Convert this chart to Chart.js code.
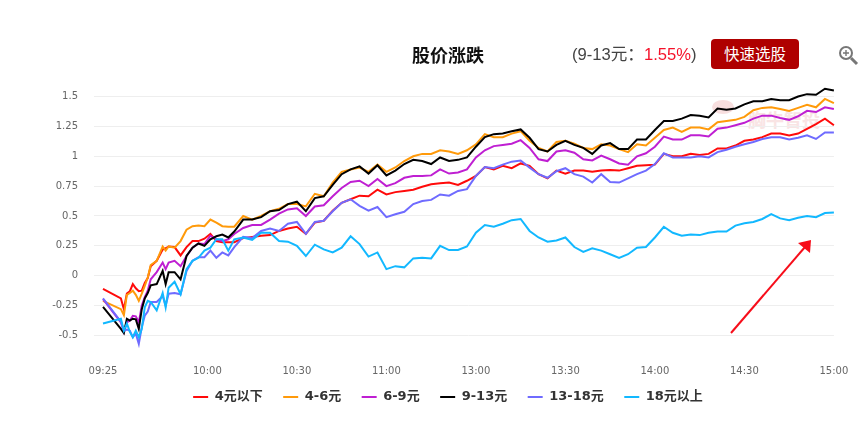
<!DOCTYPE html>
<html lang="zh-CN"><head><meta charset="utf-8">
<style>
html,body{margin:0;padding:0;background:#fff;width:866px;height:423px;overflow:hidden}
#wrap{position:relative;width:866px;height:423px}
canvas{position:absolute;left:0;top:0}
.t{position:absolute;white-space:nowrap;font-family:"Liberation Sans","Noto Sans CJK SC",sans-serif}
svg{position:absolute;left:0;top:0}
</style>
<script src="https://cdn.jsdelivr.net/npm/chart.js@4/dist/chart.umd.min.js"></script>
</head><body>
<div id="wrap">
<svg width="866" height="423" style="z-index:0">
<ellipse cx="723" cy="107" rx="11" ry="7" fill="#f8dfdf"/>
<text x="748" y="127" font-family="Noto Sans CJK SC" font-weight="700" font-size="18" fill="#f9e4e4">胸牛智投</text>
</svg>
<canvas id="c" width="866" height="423" style="z-index:1"></canvas>
<div class="t" style="z-index:2;left:572px;top:45px;font-size:16.6px;line-height:20px;color:#444">(9-13元：<span style="color:#f5122a">1.55%</span>)</div>
<div class="t" style="z-index:2;left:711px;top:39px;width:88px;height:30px;line-height:29px;background:#af0000;border-radius:4px;color:#fff;font-size:15.5px;text-align:center;font-family:'Noto Sans CJK SC',sans-serif">快速选股</div>
<svg width="866" height="423" style="z-index:3">
<g fill="none" stroke="#777">
<circle cx="846" cy="53" r="6" stroke-width="2"/>
<path d="M843 53h6M846 50v6" stroke-width="1.4"/>
<path d="M851 58l6 6" stroke-width="3"/>
</g>
<path d="M731 333L805 247" stroke="#f70d1a" stroke-width="2" fill="none"/>
<path d="M811 240L798 243L810 253Z" fill="#f70d1a"/>
</svg>
</div>
<script>
const seriesNames = ["4元以下","4-6元","6-9元","9-13元","13-18元","18元以上"];
const seriesColors = ["#ff0a0a","#ff9a0a","#bf1fd2","#000000","#6f6bff","#12b8ff"];
const tickMinutes = [0,35,65,95,125,155,185,215,245];
const tickLabels = ["09:25","10:00","10:30","11:00","13:00","13:30","14:00","14:30","15:00"];
const yTicks = [-0.5,-0.25,0,0.25,0.5,0.75,1,1.25,1.5];
const yTickLabels = ["-0.5","-0.25","0","0.25","0.5","0.75","1","1.25","1.5"];
const minutes = [0,6,7,8,9,10,11,12,13,14,15,16,18,20,21,22,24,26,28,30,32,34,36,38,40,42,44,
47,50,53,56,59,62,65,68,71,74,77,80,83,86,89,92,95,98,101,104,107,110,113,116,119,122,125,128,131,134,137,140,143,146,149,152,155,158,161,164,167,170,173,176,179,182,185,188,191,194,197,200,203,206,209,212,215,218,221,224,227,230,233,236,239,242,245];
const under4 = [-.11,-.19,-.28,-.15,-.13,-.07,-.105,-.13,-.125,-.06,-.02,.08,.125,.22,.23,.245,.24,.17,.24,.29,.29,.31,.35,.29,.28,.28,.28,
.315,.325,.335,.34,.375,.395,.41,.35,.445,.46,.545,.61,.64,
.67,.665,.72,.68,.70,.71,.72,.745,.765,.775,.78,.76,.795,.835,
.91,.89,.92,.90,.94,.92,.85,.815,.88,.855,.88,.88,.87,
.88,.885,.88,.90,.92,.925,.93,1.02,1.0,1.0,1.02,1.01,1.02,
1.065,1.065,1.09,1.13,1.14,1.16,1.19,1.19,1.175,1.19,1.23,1.27,1.315,1.26];
const from4to6 = [-.21,-.28,-.33,-.16,-.145,-.125,-.16,-.21,-.15,-.085,-.015,.09,.125,.245,.21,.245,.235,.29,.385,.415,.42,.415,.47,.445,.415,.41,.41,
.50,.47,.50,.54,.56,.60,.60,.58,.686,.665,.78,.87,.89,
.906,.87,.93,.87,.906,.96,1.0,1.02,1.02,1.05,1.04,1.02,1.05,1.10,
1.185,1.16,1.16,1.19,1.21,1.13,1.07,1.04,1.12,1.13,1.105,1.07,1.06,
1.10,1.09,1.06,1.035,1.10,1.09,1.155,1.22,1.24,1.205,1.24,1.24,1.225,
1.285,1.295,1.305,1.33,1.385,1.405,1.41,1.395,1.38,1.405,1.43,1.41,1.48,1.445];
const from6to9 = [-.195,-.39,-.47,-.39,-.375,-.335,-.34,-.39,-.25,-.18,-.125,-.03,.03,.11,.055,.11,.125,.08,.165,.235,.27,.265,.335,.305,.29,.305,.35,
.40,.425,.425,.47,.52,.555,.565,.50,.58,.59,.665,.735,.785,
.795,.75,.81,.75,.775,.82,.835,.835,.84,.89,.855,.865,.89,.99,
1.05,1.085,1.095,1.105,1.135,1.07,.975,.96,1.04,1.05,1.03,.975,.965,
1.005,.975,.94,.93,1.0,1.025,1.08,1.165,1.14,1.14,1.175,1.175,1.165,
1.23,1.24,1.26,1.28,1.315,1.34,1.34,1.32,1.305,1.335,1.38,1.37,1.41,1.395];
const from9to13 = [-.26,-.445,-.48,-.36,-.375,-.36,-.365,-.445,-.28,-.19,-.145,-.08,-.07,.04,-.07,.03,.03,-.03,.165,.235,.27,.25,.305,.33,.345,.32,.37,
.47,.47,.49,.54,.55,.60,.62,.54,.65,.665,.76,.85,.89,
.915,.855,.925,.84,.88,.935,.97,.96,.935,.99,.96,.97,.99,1.08,
1.16,1.185,1.19,1.21,1.225,1.155,1.06,1.04,1.095,1.13,1.095,1.07,1.02,
1.09,1.11,1.06,1.06,1.14,1.14,1.22,1.295,1.295,1.315,1.345,1.34,1.325,
1.40,1.39,1.40,1.435,1.46,1.46,1.48,1.47,1.47,1.50,1.52,1.515,1.565,1.55];
const from13to18 = [-.19,-.385,-.46,-.45,-.46,-.515,-.485,-.57,-.43,-.335,-.30,-.22,-.22,-.17,-.25,-.15,-.145,-.155,.04,.125,.155,.155,.21,.15,.195,.17,.24,
.325,.315,.375,.395,.375,.435,.45,.35,.45,.46,.54,.61,.64,
.585,.545,.575,.49,.515,.535,.60,.625,.635,.68,.67,.71,.725,.835,
.91,.90,.93,.955,.965,.905,.85,.82,.875,.90,.85,.83,.78,
.85,.785,.78,.815,.85,.88,.935,1.025,.99,.99,.99,1.0,.99,
1.035,1.055,1.08,1.10,1.12,1.145,1.16,1.16,1.14,1.155,1.175,1.145,1.20,1.20];
const over18 = [-.40,-.36,-.46,-.40,-.47,-.515,-.46,-.515,-.445,-.265,-.21,-.22,-.29,-.145,-.265,-.10,-.05,-.155,.055,.125,.15,.21,.235,.305,.305,.21,.305,
.32,.30,.36,.36,.29,.285,.25,.165,.26,.22,.195,.235,.33,
.265,.16,.195,.055,.08,.07,.145,.15,.145,.25,.215,.215,.245,.36,
.425,.41,.435,.465,.475,.375,.32,.285,.295,.32,.24,.20,.23,
.21,.18,.15,.18,.235,.24,.32,.41,.36,.335,.345,.34,.36,
.37,.37,.42,.44,.45,.475,.515,.48,.465,.485,.50,.49,.525,.53];
const allSeries = [under4,from4to6,from6to9,from9to13,from13to18,over18];

const tickFont = {family:'"DejaVu Sans","Noto Sans CJK SC",sans-serif',size:10};
new Chart(document.getElementById('c'),{
  type:'line',
  data:{datasets:allSeries.map((vals,i)=>({
    label:seriesNames[i],
    data:vals.map((v,j)=>({x:minutes[j],y:v})),
    borderColor:seriesColors[i],backgroundColor:seriesColors[i],
    borderWidth:2,pointRadius:0,tension:0,clip:false,order:-i
  }))},
  options:{
    responsive:false,animation:false,
    layout:{padding:{left:58,right:28,top:0,bottom:9.6}},
    plugins:{
      tooltip:{enabled:false},
      title:{display:true,text:'股价涨跌',color:'#111',
        font:{family:'"Noto Sans CJK SC",sans-serif',size:18,weight:'bold',lineHeight:1.2},
        padding:{top:44.2,bottom:18.8}},
      legend:{position:'bottom',
        labels:{boxWidth:15,boxHeight:2,padding:20.5,color:'#333',
          font:{family:'"DejaVu Sans","Noto Sans CJK SC",sans-serif',size:13,weight:'bold'},
          generateLabels:(chart)=>chart.data.datasets.map((d,i)=>({
            text:d.label,fillStyle:d.borderColor,strokeStyle:d.borderColor,lineWidth:0,
            fontColor:'#333',datasetIndex:i,hidden:false}))}}
    },
    scales:{
      x:{type:'linear',min:0,max:245,
        grid:{display:false,drawTicks:false},border:{display:false},
        afterBuildTicks:(s)=>{s.ticks=tickMinutes.map(v=>({value:v}));},
        afterFit:(s)=>{s.height=22.5;s._computeLabelArea=()=>undefined;},
        ticks:{autoSkip:false,maxRotation:0,minRotation:0,padding:17.7,color:'#666',font:tickFont,
          callback:(v)=>tickLabels[tickMinutes.indexOf(v)]}},
      y:{type:'linear',min:-0.6,max:1.6,
        grid:{color:'#eeeeee',lineWidth:1,tickLength:9,drawTicks:true},border:{display:false},
        afterBuildTicks:(s)=>{s.ticks=yTicks.map(v=>({value:v}));},
        afterFit:(s)=>{s.width=45;s._computeLabelArea=()=>undefined;},
        ticks:{padding:16,color:'#666',font:tickFont,
          callback:(v)=>yTickLabels[yTicks.indexOf(v)]}}
    }
  }
});
</script>
</body></html>
